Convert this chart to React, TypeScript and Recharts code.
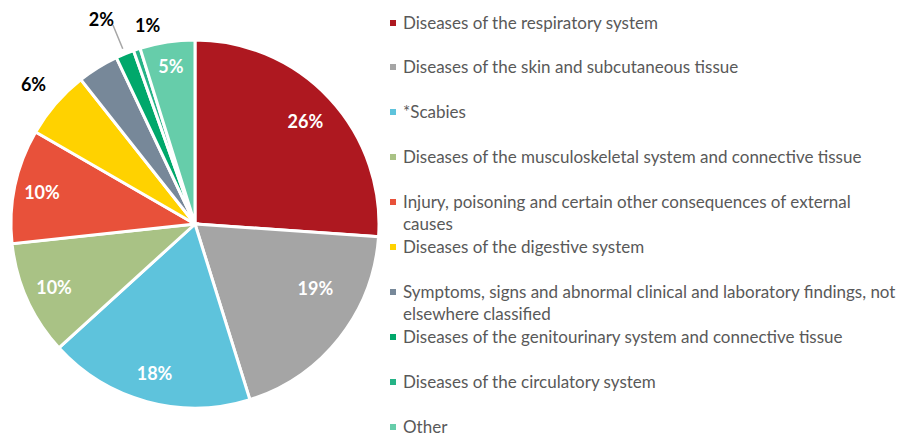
import React from 'react';
import { PieChart, Pie, Cell, Legend } from 'recharts';

const categories = [
  'Diseases of the respiratory system',
  'Diseases of the skin and subcutaneous tissue',
  '*Scabies',
  'Diseases of the musculoskeletal system and connective tissue',
  'Injury, poisoning and certain other consequences of external causes',
  'Diseases of the digestive system',
  'Symptoms, signs and abnormal clinical and laboratory findings, not elsewhere classified',
  'Diseases of the genitourinary system and connective tissue',
  'Diseases of the circulatory system',
  'Other',
];
const values = [26, 19, 18, 10, 10, 6, 3.6, 1.6, 0.6, 4.8];
const percentLabels = ['26%', '19%', '18%', '10%', '10%', '6%', '', '2%', '1%', '5%'];

const COLORS = ['#AE1820', '#A5A5A5', '#5EC3DC', '#A9C285', '#E8513A', '#FFD200', '#778899', '#00A86B', '#25B386', '#66CDAA'];

// label placement styling (radius factor relative to outer radius, angle nudge in degrees)
const LABEL_STYLE = [
  { inside: true, r: 0.82, dA: 0 },
  { inside: true, r: 0.74, dA: 10.5 },
  { inside: true, r: 0.84, dA: 0 },
  { inside: true, r: 0.84, dA: 0 },
  { inside: true, r: 0.85, dA: 0 },
  { inside: false, r: 1.16, dA: 0 },
  { inside: false, r: 0, dA: 0 },
  { inside: false, r: 1.03, dA: 0, leader: 1.17 },
  { inside: false, r: 1.11, dA: -5 },
  { inside: true, r: 0.87, dA: 0 },
];

const data = categories.map((name, i) => ({ name, value: values[i] }));
const RAD = Math.PI / 180;
const FONT = 'Lato, "Open Sans", sans-serif';

function renderLabel(props: any) {
  const { cx, cy, midAngle, outerRadius, index } = props;
  const text = percentLabels[index];
  if (!text) return null;
  const st = LABEL_STYLE[index];
  const ang = (midAngle + st.dA) * RAD;
  if (st.leader) {
    const x1 = cx + outerRadius * st.r * Math.cos(-ang);
    const y1 = cy + outerRadius * st.r * Math.sin(-ang);
    const x2 = cx + outerRadius * st.leader * Math.cos(-ang);
    const y2 = cy + outerRadius * st.leader * Math.sin(-ang);
    return (
      <g key={`l-${index}`}>
        <line x1={x1} y1={y1} x2={x2} y2={y2} stroke="#A6A6A6" strokeWidth={1.5} />
        <text x={x2 + 1} y={y2 - 6} textAnchor="end" dominantBaseline="central" fill="#000" fontWeight="bold" fontSize={18} fontFamily={FONT}>
          {text}
        </text>
      </g>
    );
  }
  const x = cx + outerRadius * st.r * Math.cos(-ang);
  const y = cy + outerRadius * st.r * Math.sin(-ang);
  return (
    <text key={`l-${index}`} x={x} y={y} textAnchor="middle" dominantBaseline="central" fill={st.inside ? '#FFFFFF' : '#000000'} fontWeight="bold" fontSize={18} fontFamily={FONT}>
      {text}
    </text>
  );
}

function renderLegend() {
  return (
    <div style={{ position: 'relative', width: 520, height: 434 }}>
      {categories.map((name, i) => (
        <div key={name} style={{ position: 'absolute', left: 0, top: 22.5 + i * 44.9 - 11, display: 'flex', alignItems: 'flex-start' }}>
          <div style={{ width: 6, height: 6, background: COLORS[i], marginTop: 8, marginRight: 7, flex: 'none' }} />
          <div style={{ width: 498, fontFamily: FONT, fontSize: 17, lineHeight: '22px', color: '#595959' }}>{name}</div>
        </div>
      ))}
    </div>
  );
}

export default function App() {
  return (
    <div style={{ position: 'absolute', left: 0, top: 0, width: 914, height: 434, background: '#fff' }}>
      <PieChart width={914} height={434} margin={{ top: 0, right: 0, bottom: 0, left: 0 }}>
        <Pie
          data={data}
          dataKey="value"
          nameKey="name"
          cx={195}
          cy={224}
          outerRadius={184}
          startAngle={90}
          endAngle={-270}
          stroke="#FFFFFF"
          strokeWidth={3}
          label={renderLabel}
          labelLine={false}
          isAnimationActive={false}
        >
          {data.map((d, i) => (
            <Cell key={d.name} fill={COLORS[i]} />
          ))}
        </Pie>
        <Legend content={renderLegend} wrapperStyle={{ position: 'absolute', left: 390, top: 0, width: 520 }} />
      </PieChart>
    </div>
  );
}
